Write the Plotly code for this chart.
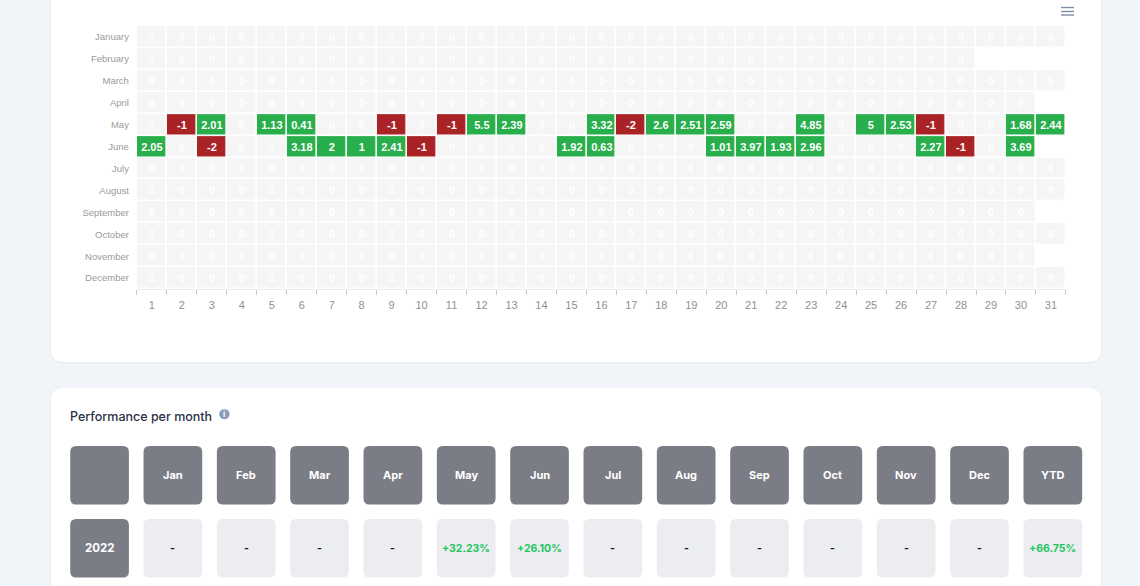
import plotly.graph_objects as go

W, H = 1140, 586

month_names = ["January", "February", "March", "April", "May", "June", "July",
               "August", "September", "October", "November", "December"]
days_in_month = [31, 28, 31, 30, 31, 30, 31, 31, 30, 31, 30, 31]
day_labels = [str(d) for d in range(1, 32)]

may_values = [0, -1, 2.01, 0, 1.13, 0.41, 0, 0, -1, 0, -1, 5.5, 2.39, 0, 0, 3.32,
              -2, 2.6, 2.51, 2.59, 0, 0, 4.85, 0, 5, 2.53, -1, 0, 0, 1.68, 2.44]
june_values = [2.05, 0, -2, 0, 0, 3.18, 2, 1, 2.41, -1, 0, 0, 0, 0, 1.92, 0.63,
               0, 0, 0, 1.01, 3.97, 1.93, 2.96, 0, 0, 0, 2.27, -1, 0, 3.69]

table_headers = ["", "Jan", "Feb", "Mar", "Apr", "May", "Jun", "Jul", "Aug",
                 "Sep", "Oct", "Nov", "Dec", "YTD"]
table_row = ["2022", "-", "-", "-", "-", "+32.23%", "+26.10%", "-", "-", "-",
             "-", "-", "-", "+66.75%"]

# One row per month; days that do not exist stay empty.
recorded = {"May": may_values, "June": june_values}
z_rows = []
for name, days in zip(month_names, days_in_month):
    row = list(recorded.get(name, [0] * days))
    z_rows.append(row + [None] * (31 - days))
text_rows = [["" if v is None else f"{v:g}" for v in row] for row in z_rows]

RED, GREY, GREEN = "#a92226", "#f6f5f6", "#28ae4b"
z_min, z_max = -2, 5.5
zero_pos = (0 - z_min) / (z_max - z_min)
colorscale = [[0, RED], [zero_pos - 0.01, RED], [zero_pos - 0.01, GREY],
              [zero_pos + 0.01, GREY], [zero_pos + 0.01, GREEN], [1, GREEN]]


def px(x):
    return x / W


def py(y):
    return 1 - y / H


def rounded(x0, y0, x1, y1, r, fill):
    """Rounded rectangle given in page pixels."""
    X0, X1, Y0, Y1 = px(x0), px(x1), py(y0), py(y1)
    rx, ry = r / W, r / H
    path = (f"M {X0 + rx} {Y0} L {X1 - rx} {Y0} Q {X1} {Y0} {X1} {Y0 - ry} "
            f"L {X1} {Y1 + ry} Q {X1} {Y1} {X1 - rx} {Y1} "
            f"L {X0 + rx} {Y1} Q {X0} {Y1} {X0} {Y1 + ry} "
            f"L {X0} {Y0 - ry} Q {X0} {Y0} {X0 + rx} {Y0} Z")
    return dict(type="path", path=path, xref="paper", yref="paper", layer="below",
                fillcolor=fill, line=dict(width=0))


fig = go.Figure(go.Heatmap(
    z=z_rows, x=day_labels, y=month_names, text=text_rows,
    texttemplate="%{text}",
    textfont=dict(family="Liberation Sans", size=11, color="white", weight="bold"),
    colorscale=colorscale, zmin=z_min, zmax=z_max, showscale=False,
    xgap=1.6, ygap=1.6, hoverongaps=False,
))

shapes = []
# Page panels with a faint drop shadow.
for top, bottom in [(-40, 362), (388, 640)]:
    shapes.append(rounded(50.4, top, 1101.6, bottom + 1.2, 12, "#e8ebf0"))
    shapes.append(rounded(51, top, 1101, bottom, 12, "#ffffff"))

annotations = []


def page_text(x, y, text, size, color, family="Inter", xanchor="center", weight="bold"):
    annotations.append(dict(x=px(x), y=py(y), xref="paper", yref="paper", text=text,
                            showarrow=False, xanchor=xanchor, yanchor="middle",
                            font=dict(family=family, size=size, color=color, weight=weight)))


# Monthly performance table: one header row and one value row.
CARD_LEFT, CARD_STEP, CARD_W = 70.2, 73.33, 58.7
HEADER_TOP, VALUE_TOP, CARD_H = 446, 519, 58.5
DARK, LIGHT = "#7b7d86", "#ecedf1"
for i, (head, val) in enumerate(zip(table_headers, table_row)):
    x0 = CARD_LEFT + i * CARD_STEP
    cx = x0 + CARD_W / 2
    shapes.append(rounded(x0, HEADER_TOP, x0 + CARD_W, HEADER_TOP + CARD_H, 6, DARK))
    shapes.append(rounded(x0, VALUE_TOP, x0 + CARD_W, VALUE_TOP + CARD_H, 6,
                          DARK if i == 0 else LIGHT))
    if head:
        page_text(cx, HEADER_TOP + 29, head, 11, "#ffffff")
    color = "#ffffff" if i == 0 else ("#22c55e" if val.startswith("+") else "#16181d")
    page_text(cx, VALUE_TOP + 29, val, 11.5 if i == 0 else 10.5, color)

page_text(68, 416.5, "Performance per month", 12.5, "#2b3245", xanchor="left", weight=500)

# Info badge beside the section title.
shapes.append(dict(type="circle", xref="paper", yref="paper", layer="below",
                   x0=px(219.2), x1=px(229.6), y0=py(419.3), y1=py(408.9), fillcolor="#8a9cba",
                   line=dict(width=0)))
page_text(224.4, 414.2, "i", 8, "#ffffff")

# Chart menu icon.
for y in (7.5, 11.5, 15):
    shapes.append(dict(type="line", xref="paper", yref="paper", layer="above",
                       x0=px(1061), x1=px(1074), y0=py(y), y1=py(y),
                       line=dict(color="#7f8ea6", width=1.4)))

fig.update_layout(
    width=W, height=H, margin=dict(l=0, r=0, t=0, b=0),
    paper_bgcolor="#f1f4f9", plot_bgcolor="rgba(0,0,0,0)",
    shapes=shapes, annotations=annotations, showlegend=False,
    xaxis=dict(domain=[px(136.9), px(1065.9)], type="category", tickmode="array",
               tickvals=day_labels, ticktext=day_labels, tickson="boundaries",
               ticks="outside", ticklen=5, tickcolor="#c8c8c8", tickwidth=1,
               showline=True, linecolor="#ececec", showgrid=False, zeroline=False,
               ticklabelstandoff=6, automargin=False,
               tickfont=dict(family="Liberation Sans", size=11, color="#8f8f8f")),
    yaxis=dict(domain=[py(289.1), py(26.1)], type="category", autorange="reversed",
               showgrid=False, zeroline=False, ticks="", showline=False,
               ticklabelstandoff=7, automargin=False,
               tickfont=dict(family="Liberation Sans", size=9.5, color="#9a9a9a")),
)

fig.write_html("out.html", config=dict(displayModeBar=False))
